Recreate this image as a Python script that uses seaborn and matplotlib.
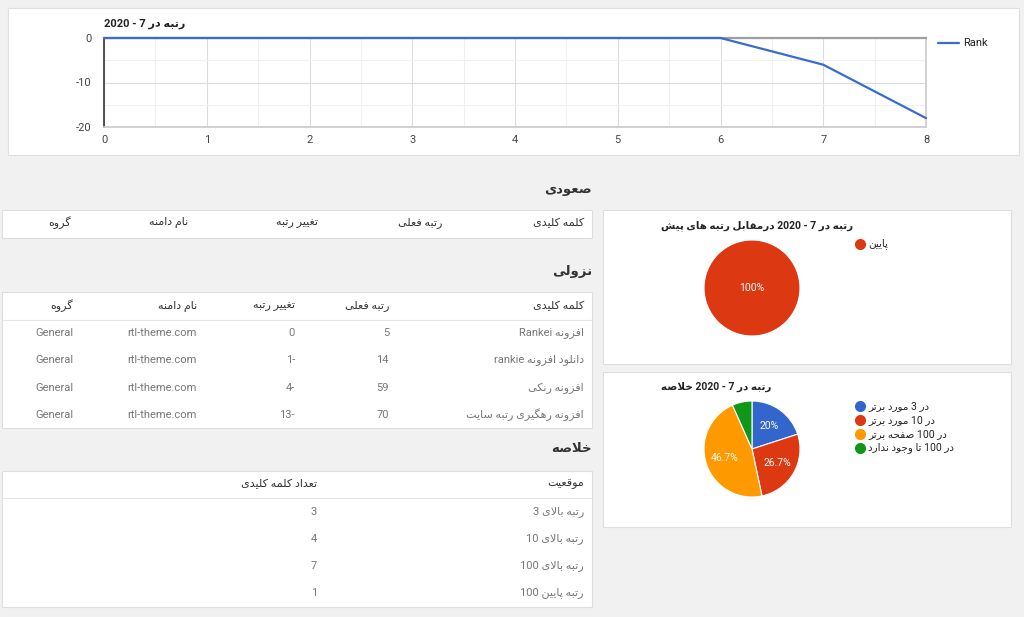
import matplotlib
matplotlib.use("Agg")
import matplotlib.pyplot as plt
from matplotlib.patches import Rectangle
from matplotlib.lines import Line2D
import seaborn as sns
import pandas as pd

# ---------------- data ----------------
x_days = [0, 1, 2, 3, 4, 5, 6, 7, 8]
rank_series = [0, 0, 0, 0, 0, 0, 0, -6, -18]
line_title = "رتبه در 7 - 2020"
line_series_name = "Rank"

heading_asc = "صعودی"
heading_desc = "نزولی"
heading_sum = "خلاصه"

table_headers = ["کلمه کلیدی", "رتبه فعلی", "تغییر رتبه", "نام دامنه", "گروه"]

desc_keywords = ["افزونه Rankei", "دانلود افزونه rankie", "افزونه رنکی", "افزونه رهگیری رتبه سایت"]
desc_current = [5, 14, 59, 70]
desc_change = [0, -1, -4, -13]
desc_domain = ["rtl-theme.com", "rtl-theme.com", "rtl-theme.com", "rtl-theme.com"]
desc_group = ["General", "General", "General", "General"]

summary_headers = ["موقعیت", "تعداد کلمه کلیدی"]
summary_labels = ["رتبه بالای 3", "رتبه بالای 10", "رتبه بالای 100", "رتبه پایین 100"]
summary_counts = [3, 4, 7, 1]

pie1_title = "رتبه در 7 - 2020 درمقابل رتبه های پیش"
pie1_labels = ["پایین"]
pie1_values = [1]
pie1_colors = ["#dc3912"]

pie2_title = "رتبه در 7 - 2020 خلاصه"
pie2_labels = ["در 3 مورد برتر", "در 10 مورد برتر", "در 100 صفحه برتر", "در 100 تا وجود ندارد"]
pie2_values = summary_counts
pie2_colors = ["#3366cc", "#dc3912", "#ff9900", "#109618"]

# ---------------- Persian shaping (visual order) ----------------
FORMS = {
    '\u0627': ('\ufe8d', '\ufe8e', None, None),
    '\u0628': ('\ufe8f', '\ufe90', '\ufe91', '\ufe92'),
    '\u062a': ('\ufe95', '\ufe96', '\ufe97', '\ufe98'),
    '\u062b': ('\ufe99', '\ufe9a', '\ufe9b', '\ufe9c'),
    '\u062c': ('\ufe9d', '\ufe9e', '\ufe9f', '\ufea0'),
    '\u062d': ('\ufea1', '\ufea2', '\ufea3', '\ufea4'),
    '\u062e': ('\ufea5', '\ufea6', '\ufea7', '\ufea8'),
    '\u062f': ('\ufea9', '\ufeaa', None, None),
    '\u0630': ('\ufeab', '\ufeac', None, None),
    '\u0631': ('\ufead', '\ufeae', None, None),
    '\u0632': ('\ufeaf', '\ufeb0', None, None),
    '\u0633': ('\ufeb1', '\ufeb2', '\ufeb3', '\ufeb4'),
    '\u0634': ('\ufeb5', '\ufeb6', '\ufeb7', '\ufeb8'),
    '\u0635': ('\ufeb9', '\ufeba', '\ufebb', '\ufebc'),
    '\u0636': ('\ufebd', '\ufebe', '\ufebf', '\ufec0'),
    '\u0637': ('\ufec1', '\ufec2', '\ufec3', '\ufec4'),
    '\u0638': ('\ufec5', '\ufec6', '\ufec7', '\ufec8'),
    '\u0639': ('\ufec9', '\ufeca', '\ufecb', '\ufecc'),
    '\u063a': ('\ufecd', '\ufece', '\ufecf', '\ufed0'),
    '\u0641': ('\ufed1', '\ufed2', '\ufed3', '\ufed4'),
    '\u0642': ('\ufed5', '\ufed6', '\ufed7', '\ufed8'),
    '\u0644': ('\ufedd', '\ufede', '\ufedf', '\ufee0'),
    '\u0645': ('\ufee1', '\ufee2', '\ufee3', '\ufee4'),
    '\u0646': ('\ufee5', '\ufee6', '\ufee7', '\ufee8'),
    '\u0647': ('\ufee9', '\ufeea', '\ufeeb', '\ufeec'),
    '\u0648': ('\ufeed', '\ufeee', None, None),
    '\u067e': ('\ufb56', '\ufb57', '\ufb58', '\ufb59'),
    '\u0686': ('\ufb7a', '\ufb7b', '\ufb7c', '\ufb7d'),
    '\u0698': ('\ufb8a', '\ufb8b', None, None),
    '\u06a9': ('\ufb8e', '\ufb8f', '\ufb90', '\ufb91'),
    '\u06af': ('\ufb92', '\ufb93', '\ufb94', '\ufb95'),
    '\u06cc': ('\ufbfc', '\ufbfd', '\ufbfe', '\ufbff'),
}


def _joins_left(c):
    return c in FORMS and FORMS[c][2] is not None


def shape_word(w):
    out = []
    i, n = 0, len(w)
    while i < n:
        c = w[i]
        if c not in FORMS:
            out.append(c)
            i += 1
            continue
        pj = i > 0 and _joins_left(w[i - 1])
        if c == '\u0644' and i + 1 < n and w[i + 1] == '\u0627':
            out.append('\ufefc' if pj else '\ufefb')
            i += 2
            continue
        nj = _joins_left(c) and i + 1 < n and w[i + 1] in FORMS
        iso, fin, ini, med = FORMS[c]
        out.append(med if (pj and nj) else fin if pj else ini if nj else iso)
        i += 1
    return ''.join(out)


def rtl(s):
    s = str(s)
    toks = s.split(' ')
    vis = []
    for t in toks:
        if any(ch in FORMS for ch in t):
            vis.append(shape_word(t)[::-1])
        else:
            vis.append(t)
    return ' '.join(vis[::-1])


def fmt_change(v):
    return f"{-v}-" if v < 0 else str(v)


# ---------------- figure ----------------
sns.set_theme(style="white")
plt.rcParams['font.family'] = ['Roboto', 'DejaVu Sans']
plt.rcParams['axes.unicode_minus'] = False

W, H = 1024, 617
fig = plt.figure(figsize=(W / 100, H / 100), dpi=100)
fig.patch.set_facecolor('#f1f1f1')


def fx(x):
    return x / W


def fy(y):
    return 1 - y / H


def panel(x0, y0, x1, y1):
    fig.patches.append(Rectangle((fx(x0), fy(y1)), (x1 - x0) / W, (y1 - y0) / H,
                                 transform=fig.transFigure, facecolor='white',
                                 edgecolor='#dedede', linewidth=0.8, zorder=-10))


def hline(x0, x1, y, color='#e6e6e6', lw=0.8):
    fig.add_artist(Line2D([fx(x0), fx(x1)], [fy(y), fy(y)], transform=fig.transFigure,
                          color=color, lw=lw))


def T(x, y, s, **kw):
    kw.setdefault('va', 'center')
    fig.text(fx(x), fy(y), s, **kw)


# panels
panel(8, 8, 1019, 155)
panel(2, 210, 592, 238)
panel(2, 292, 592, 428)
panel(2, 471, 592, 607)
panel(603, 210, 1011, 364)
panel(603, 372, 1011, 527)

# ---------------- line chart ----------------
ax = fig.add_axes([fx(104), fy(127), (926 - 104) / W, (127 - 38) / H])
ax.set_zorder(1)
ax.set_facecolor('white')
df = pd.DataFrame({'day': x_days, line_series_name: rank_series})
sns.lineplot(data=df, x='day', y=line_series_name, ax=ax, color='#3a6bcf',
             linewidth=1.6, clip_on=False, zorder=5)
ax.set_xlim(0, 8)
ax.set_ylim(-20, 0)
ax.set_xticks(x_days)
ax.set_xticks([d + 0.5 for d in x_days[:-1]], minor=True)
ax.set_yticks([0, -10, -20])
ax.set_yticks([-5, -15], minor=True)
ax.grid(True, which='major', color='#dcdcdc', linewidth=0.8)
ax.grid(True, which='minor', color='#f0f0f0', linewidth=0.8)
ax.set_axisbelow(True)
ax.set_xlabel('')
ax.set_ylabel('')
ax.tick_params(axis='both', which='both', length=0, labelsize=8, colors='#444444')
ax.tick_params(axis='y', pad=9)
ax.tick_params(axis='x', pad=6)
ax.spines['left'].set_color('#333333')
ax.spines['left'].set_linewidth(1.2)
ax.spines['top'].set_color('#9e9e9e')
ax.spines['top'].set_linewidth(1.6)
ax.spines['bottom'].set_color('#cccccc')
ax.spines['right'].set_color('#cccccc')
for s in ax.spines.values():
    s.set_visible(True)
leg = ax.get_legend()
if leg:
    leg.remove()

T(104, 24, rtl(line_title), ha='left', fontsize=8, fontweight='bold', color='#222222')
fig.add_artist(Line2D([fx(938), fx(959)], [fy(43), fy(43)], transform=fig.transFigure,
                      color='#3a6bcf', lw=1.6))
T(963, 43, line_series_name, ha='left', fontsize=8, color='#222222')

# ---------------- headings ----------------
head_kw = dict(ha='right', fontsize=9.5, fontweight='bold', color='#333333')
T(592, 190, rtl(heading_asc), **head_kw)
T(592, 272, rtl(heading_desc), **head_kw)
T(592, 449, rtl(heading_sum), **head_kw)

hdr_kw = dict(ha='right', fontsize=8, color='#333333')
cell_kw = dict(ha='right', fontsize=8, color='#777777')

# table 1 (ascending, header only)
asc_cols = [584, 442, 318, 188, 71]
for xc, h in zip(asc_cols, table_headers):
    T(xc, 223, rtl(h), **hdr_kw)

# table 2 (descending)
desc_cols = [584, 389, 295, 197, 73]
for xc, h in zip(desc_cols, table_headers):
    T(xc, 306, rtl(h), **hdr_kw)
hline(3, 591, 320)
row_y = [333, 360, 388, 415]
for i, yy in enumerate(row_y):
    T(desc_cols[0], yy, rtl(desc_keywords[i]), **cell_kw)
    T(desc_cols[1], yy, str(desc_current[i]), **cell_kw)
    T(desc_cols[2], yy, fmt_change(desc_change[i]), **cell_kw)
    T(desc_cols[3], yy, desc_domain[i], **cell_kw)
    T(desc_cols[4], yy, desc_group[i], **cell_kw)

# table 3 (summary)
sum_cols = [584, 317]
for xc, h in zip(sum_cols, summary_headers):
    T(xc, 484, rtl(h), **hdr_kw)
hline(3, 591, 498)
srow_y = [512, 539, 566, 593]
for i, yy in enumerate(srow_y):
    T(sum_cols[0], yy, rtl(summary_labels[i]), **cell_kw)
    T(sum_cols[1], yy, str(summary_counts[i]), **cell_kw)


# ---------------- pies ----------------
def pct_fmt(p):
    if p < 10:
        return ''
    return f"{p:.1f}".rstrip('0').rstrip('.') + '%'


def draw_pie(cx, cy, r, values, colors, labels, title, title_y, leg_y0):
    axp = fig.add_axes([fx(cx - r), fy(cy + r), 2 * r / W, 2 * r / H])
    axp.set_zorder(1)
    pdist = 0.0 if len(values) == 1 else 0.6
    _, _, autotexts = axp.pie(values, colors=colors, startangle=90, counterclock=False,
                              autopct=pct_fmt, pctdistance=pdist,
                              wedgeprops=dict(edgecolor='white', linewidth=0.8))
    for t in autotexts:
        t.set_color('white')
        t.set_fontsize(7.5)
    axp.set_xlim(-1, 1)
    axp.set_ylim(-1, 1)
    axp.set_aspect('equal')
    axp.axis('off')
    T(661, title_y, rtl(title), ha='left', fontsize=7.5, fontweight='bold', color='#222222')
    for k, (lab, col) in enumerate(zip(labels, colors)):
        yy = leg_y0 + k * 14
        fig.add_artist(Line2D([fx(860)], [fy(yy)], transform=fig.transFigure, marker='o',
                              markersize=7, color=col, linestyle='none'))
        T(868, yy, rtl(lab), ha='left', fontsize=7.5, color='#222222')


draw_pie(752, 288, 48, pie1_values, pie1_colors, pie1_labels, pie1_title, 226, 244)
draw_pie(752, 449, 48, pie2_values, pie2_colors, pie2_labels, pie2_title, 387, 406)

fig.savefig('out.png', dpi=100, facecolor=fig.get_facecolor())
